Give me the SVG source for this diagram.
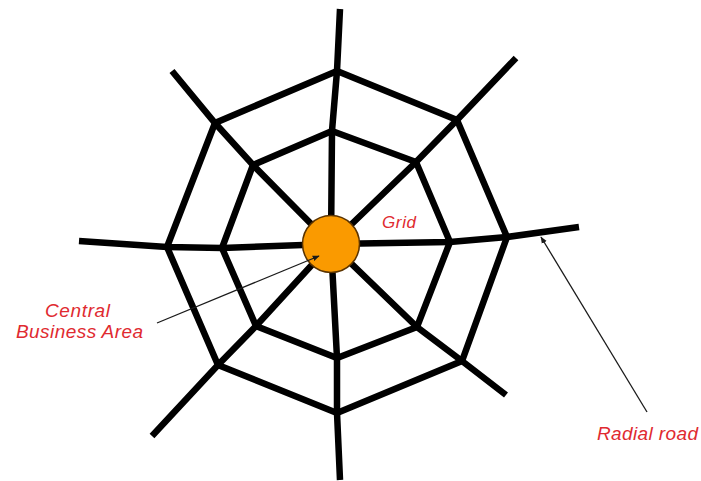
<svg xmlns="http://www.w3.org/2000/svg" width="701" height="481" viewBox="0 0 701 481">
<defs>
<style>
.road{fill:none;stroke:#000;stroke-width:6.5;stroke-linejoin:miter;stroke-linecap:butt}
.ptr{fill:none;stroke:#1a1a1a;stroke-width:1.3}
.lbl{font-family:"Liberation Sans",Arial,sans-serif;font-style:italic;font-size:19px;fill:#e02a30}
</style>
<marker id="ah" viewBox="0 0 10 10" refX="9" refY="5" markerWidth="7" markerHeight="7" orient="auto" markerUnits="userSpaceOnUse">
<path d="M0,1 L10,5 L0,9 z" fill="#1a1a1a"/>
</marker>
</defs>
<rect width="701" height="481" fill="#fff"/>
<g id="radials">
<polyline class="road" points="340,9 337,71 332,131 331,244"/>
<polyline class="road" points="516,58 457,120 416,162 331,244"/>
<polyline class="road" points="579,227 507,237 450,242 331,244"/>
<polyline class="road" points="506,395 462,361 417,327 331,244"/>
<polyline class="road" points="340,480 337,413 337,358 331,244"/>
<polyline class="road" points="152,436 218,365 256,326 331,244"/>
<polyline class="road" points="79,241 167,247 222,248 331,244"/>
<polyline class="road" points="172,71 215,123 253,165 331,244"/>
</g>
<g id="outer-ring">
<polygon class="road" points="337,71 457,120 507,237 462,361 337,413 218,365 167,247 215,123"/>
</g>
<g id="inner-ring">
<polygon class="road" points="332,131 416,162 450,242 417,327 337,358 256,326 222,248 253,165"/>
</g>
<g id="cba">
<circle cx="331" cy="244" r="28.5" fill="#fa9a00" stroke="#5a3300" stroke-width="1.5"/>
</g>
<g id="connectors">
<line class="ptr" x1="157" y1="323" x2="319" y2="256" marker-end="url(#ah)"/>
<line class="ptr" x1="647" y1="412" x2="541" y2="237" marker-end="url(#ah)"/>
</g>
<g id="labels">
<text class="lbl" x="382" y="228" style="font-size:17px" textLength="34">Grid</text>
<text class="lbl" x="45" y="317" textLength="65">Central</text>
<text class="lbl" x="16" y="338" textLength="127">Business Area</text>
<text class="lbl" x="597" y="440" textLength="101">Radial road</text>
</g>
</svg>
